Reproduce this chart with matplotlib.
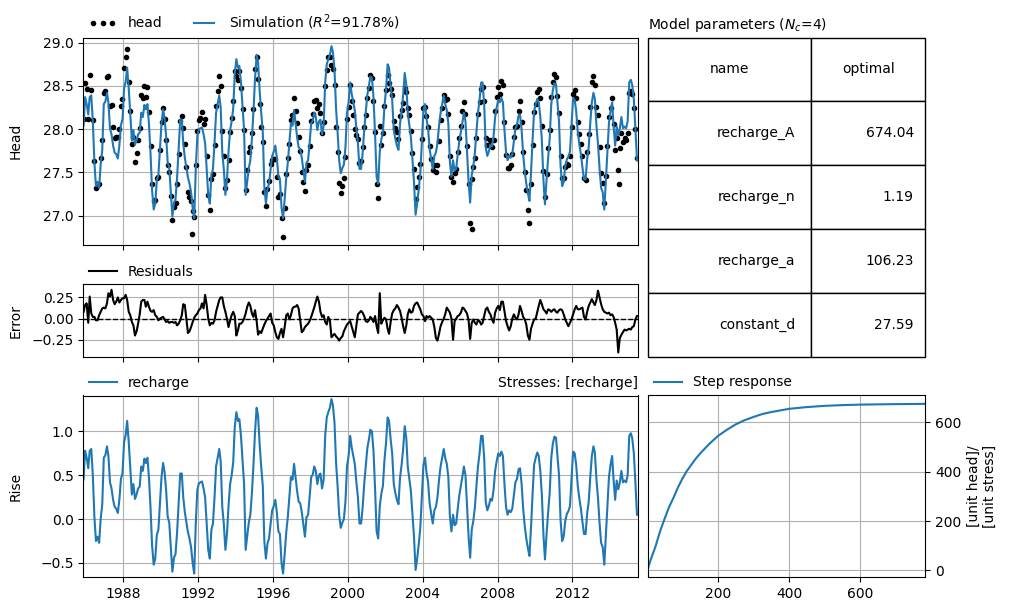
import matplotlib
matplotlib.use("Agg")
import matplotlib.pyplot as plt
import matplotlib.dates as mdates
import pandas as pd

# ---- data (monthly, mid-month, Nov 1985 - Jun 2015) ----
MONTHS = pd.date_range("1985-11-01", "2015-06-01", freq="MS") + pd.Timedelta(days=14)

# contribution of the recharge stress ("Rise")
RISE = [
    0.45, 0.78, 0.70, 0.58, 0.78, 0.80, 0.50, 0.02, -0.25, -0.20,
    -0.27, 0.00, 0.17, 0.70, 0.73, 0.83, 0.72, 0.42, 0.35, 0.22,
    0.14, 0.12, 0.07, 0.22, 0.46, 0.52, 0.88, 0.96, 1.12, 0.88,
    0.58, 0.28, 0.40, 0.23, 0.28, 0.35, 0.37, 0.60, 0.55, 0.69,
    0.64, 0.70, 0.47, 0.12, -0.30, -0.52, -0.45, -0.18, -0.12, 0.17,
    0.48, 0.64, 0.54, 0.33, 0.03, -0.04, -0.32, -0.60, -0.44, -0.40,
    -0.15, 0.18, 0.52, 0.52, 0.25, 0.08, -0.03, -0.15, -0.22, -0.32,
    -0.50, -0.62, -0.05, 0.33, 0.41, 0.42, 0.43, 0.35, 0.25, -0.06,
    -0.35, -0.45, -0.12, -0.05, 0.25, 0.60, 0.70, 0.80, 0.66, 0.14,
    -0.05, -0.35, -0.18, 0.15, 0.40, 0.50, 0.65, 1.05, 1.22, 1.12,
    1.14, 0.95, 0.68, 0.40, -0.35, -0.20, -0.04, 0.05, 0.30, 0.62,
    1.00, 1.27, 1.18, 0.85, 0.60, 0.38, -0.25, -0.45, -0.28, -0.22,
    -0.05, 0.10, 0.15, 0.22, 0.08, -0.14, -0.17, -0.50, -0.62, -0.40,
    -0.15, 0.02, 0.25, 0.48, 0.45, 0.63, 0.48, 0.32, 0.20, 0.18,
    0.08, -0.06, -0.20, 0.02, 0.05, 0.25, 0.48, 0.51, 0.60, 0.55,
    0.40, 0.50, 0.52, 0.35, 0.45, 0.95, 1.16, 1.22, 1.27, 1.37,
    1.30, 1.10, 0.65, 0.37, 0.05, -0.10, -0.04, 0.00, 0.20, 0.60,
    0.72, 0.95, 0.82, 0.72, 0.63, 0.42, 0.25, -0.05, -0.05, 0.13,
    0.40, 0.60, 0.81, 0.91, 1.02, 1.00, 0.78, 0.35, -0.14, -0.22,
    0.15, 0.29, 0.38, 0.67, 0.87, 1.16, 1.12, 0.91, 0.75, 0.40,
    0.30, 0.22, 0.17, 0.47, 0.62, 0.80, 1.06, 0.92, 0.60, 0.46,
    0.32, 0.05, -0.20, -0.58, -0.45, -0.29, -0.10, 0.25, 0.62, 0.70,
    0.53, 0.42, 0.18, 0.06, -0.05, 0.10, 0.14, 0.25, 0.45, 0.60,
    0.70, 0.80, 0.70, 0.63, 0.48, 0.03, -0.14, 0.05, -0.07, -0.05,
    0.12, 0.27, 0.38, 0.49, 0.60, 0.50, 0.15, -0.20, -0.44, -0.12,
    -0.02, 0.13, 0.38, 0.60, 0.75, 0.95, 0.95, 0.70, 0.20, 0.10,
    0.15, 0.23, 0.21, 0.33, 0.55, 0.66, 0.75, 0.72, 0.77, 0.72,
    0.40, 0.14, 0.05, 0.10, 0.08, 0.12, 0.27, 0.42, 0.46, 0.57,
    0.58, 0.40, 0.12, -0.08, -0.22, -0.33, -0.42, -0.10, 0.29, 0.62,
    0.70, 0.76, 0.72, 0.55, 0.28, -0.18, -0.46, -0.17, 0.08, 0.30,
    0.70, 0.86, 0.94, 0.93, 0.72, 0.50, -0.01, -0.25, -0.20, -0.02,
    0.06, 0.09, 0.15, 0.45, 0.77, 0.75, 0.62, 0.38, 0.24, 0.12,
    -0.03, -0.17, -0.17, 0.06, 0.20, 0.48, 0.72, 0.83, 0.76, 0.45,
    0.24, -0.05, -0.27, -0.32, -0.52, -0.20, 0.15, 0.48, 0.62, 0.72,
    0.45, 0.22, 0.44, 0.34, 0.42, 0.55, 0.42, 0.44, 0.42, 0.50,
    0.95, 0.98, 0.92, 0.75, 0.42, 0.05,
]

RESIDUALS = [
    0.08, 0.16, 0.18, -0.05, 0.26, 0.06, 0.02, 0.02, -0.02, -0.02,
    0.04, 0.08, 0.12, 0.13, 0.12, 0.18, 0.30, 0.26, 0.34, 0.22,
    0.17, 0.20, 0.25, 0.19, 0.22, 0.24, 0.24, 0.28, 0.22, 0.08,
    0.04, -0.04, -0.08, -0.20, -0.15, -0.06, 0.05, 0.20, 0.22, 0.22,
    0.14, 0.20, 0.14, 0.09, 0.08, 0.10, 0.04, 0.02, -0.02, 0.00,
    0.01, 0.02, -0.01, -0.04, -0.03, -0.05, -0.04, -0.04, -0.05, -0.04,
    -0.08, -0.06, -0.02, 0.04, 0.17, 0.16, 0.00, -0.17, -0.15, -0.10,
    -0.04, 0.01, 0.04, 0.06, 0.10, 0.12, 0.18, 0.12, 0.28, 0.16,
    0.00, -0.08, -0.05, -0.06, -0.02, 0.08, 0.15, 0.22, 0.25, 0.25,
    0.15, 0.08, 0.00, -0.10, -0.02, 0.04, 0.08, 0.03, -0.20, -0.14,
    -0.06, -0.06, -0.04, 0.00, 0.06, 0.14, 0.19, 0.15, 0.06, 0.02,
    0.10, -0.03, -0.19, -0.15, -0.17, -0.12, -0.07, -0.03, 0.00, 0.03,
    0.06, -0.05, -0.08, -0.16, -0.22, -0.24, -0.17, -0.12, -0.22, -0.10,
    0.04, 0.06, -0.01, 0.04, 0.12, 0.14, 0.14, 0.16, 0.12, -0.02,
    -0.16, -0.14, -0.10, -0.08, -0.06, -0.03, 0.02, 0.08, 0.13, 0.20,
    0.26, 0.20, 0.08, 0.02, 0.04, -0.04, -0.07, 0.02, -0.02, -0.22,
    -0.20, -0.18, -0.21, -0.23, -0.26, -0.23, -0.21, -0.15, -0.11, -0.07,
    -0.05, -0.03, -0.09, -0.15, -0.22, -0.08, 0.05, 0.07, 0.09, 0.07,
    0.03, -0.03, -0.04, -0.02, 0.02, 0.00, -0.04, 0.03, -0.09, -0.17,
    0.30, -0.06, -0.02, 0.01, -0.01, -0.12, -0.18, -0.04, 0.06, 0.10,
    0.12, 0.16, 0.13, 0.09, 0.01, -0.09, -0.17, -0.08, 0.05, 0.11,
    0.07, 0.08, 0.15, 0.18, 0.19, 0.15, 0.11, 0.05, 0.03, -0.03,
    0.03, 0.01, 0.03, 0.01, -0.01, -0.10, -0.23, -0.26, -0.18, -0.09,
    -0.04, 0.00, 0.05, 0.13, 0.10, 0.07, 0.00, -0.25, -0.03, 0.00,
    0.03, 0.04, 0.07, 0.13, 0.12, 0.09, 0.06, -0.02, -0.24, -0.05,
    -0.01, -0.05, -0.07, -0.02, -0.03, -0.07, -0.05, 0.03, 0.11, 0.13,
    0.08, 0.05, -0.01, -0.05, 0.07, 0.12, 0.15, 0.10, 0.20, 0.20,
    0.09, -0.03, -0.09, -0.14, -0.09, 0.00, 0.05, 0.01, -0.01, 0.05,
    0.15, 0.09, 0.02, -0.01, -0.07, -0.20, -0.25, -0.12, -0.06, -0.01,
    0.00, 0.08, 0.15, 0.22, 0.17, 0.11, 0.09, 0.06, 0.11, 0.10,
    0.08, 0.10, 0.11, 0.08, 0.07, 0.10, 0.11, 0.10, 0.05, -0.01,
    -0.05, -0.09, -0.05, -0.01, 0.05, 0.11, 0.15, 0.11, 0.11, 0.12,
    0.13, 0.02, -0.01, 0.08, 0.15, 0.19, 0.23, 0.19, 0.16, 0.22,
    0.33, 0.25, 0.17, 0.11, 0.08, 0.07, 0.06, 0.07, 0.04, 0.05,
    0.02, -0.05, -0.13, -0.40, -0.23, -0.19, -0.16, -0.13, -0.14, -0.13,
    -0.12, -0.13, -0.10, -0.09, -0.01, 0.03,
]

# a few isolated head observations that stand out in the top panel
OUTLIER_DATES = ["1991-09-01", "2006-08-20", "2014-07-01"]
OUTLIER_HEAD = [26.79, 26.85, 27.36]

PARAM_NAMES = ["recharge_A", "recharge_n", "recharge_a", "constant_d"]
PARAM_OPTIMAL = [674.04, 1.19, 106.23, 27.59]
R2 = 91.78

STEP_T = [4, 10, 25, 37, 50, 62, 75, 87, 100, 112, 125, 137, 150, 175, 200,
          225, 250, 275, 300, 325, 350, 400, 450, 500, 550, 600, 650, 700, 783]
STEP_RESPONSE = [12, 40, 100, 158, 210, 255, 295, 335, 372, 402, 428, 452, 474, 512, 545,
                 570, 592, 609, 622, 634, 642, 655, 662, 667, 670, 672, 673, 674, 675]

# ---- layout (pixel boxes of the reference) ----
W, H = 1011, 611


def box(x0, y0, x1, y1):
    return [x0 / W, 1 - y1 / H, (x1 - x0) / W, (y1 - y0) / H]


def main():
    sim = pd.Series(RISE, index=MONTHS) + PARAM_OPTIMAL[3]
    res = pd.Series(RESIDUALS, index=MONTHS)
    head = pd.concat([sim + res,
                      pd.Series(OUTLIER_HEAD, index=pd.to_datetime(OUTLIER_DATES))]).sort_index()

    fig = plt.figure(figsize=(W / 100, H / 100), dpi=100)
    ax1 = fig.add_axes(box(83.3, 37.5, 638, 245))
    ax2 = fig.add_axes(box(83.3, 284.3, 638, 356.7), sharex=ax1)
    ax3 = fig.add_axes(box(83.3, 395.5, 638, 577), sharex=ax1)
    axt = fig.add_axes(box(648.3, 37.5, 925.3, 357))
    ax4 = fig.add_axes(box(648.3, 395, 925.3, 577))

    # head + simulation
    ax1.plot(head.index, head.values, marker=".", linestyle="none", color="k", label="head")
    ax1.plot(sim.index, sim.values, color="C0", label=f"Simulation ($R^2$={R2:.2f}%)")
    ax1.set_ylim(26.66, 29.06)
    ax1.set_ylabel("Head")
    ax1.legend(loc=(0, 1), ncol=3, frameon=False, numpoints=3)

    # residuals
    ax2.axhline(0.0, color="k", linestyle="--", linewidth=1.0, zorder=2)
    ax2.plot(res.index, res.values, color="k", label="Residuals", zorder=3)
    ax2.set_ylim(-0.45, 0.405)
    ax2.set_yticks([-0.25, 0.0, 0.25])
    ax2.set_ylabel("Error")
    ax2.legend(loc=(0, 1), ncol=3, frameon=False)

    # recharge contribution
    ax3.plot(MONTHS, RISE, color="C0", label="recharge")
    ax3.set_ylim(-0.66, 1.41)
    ax3.set_ylabel("Rise")
    ax3.set_title("Stresses: [recharge]", loc="right", fontsize=10)
    ax3.legend(loc=(0, 1), ncol=3, frameon=False)

    ax1.set_xlim(pd.Timestamp("1985-11-10"), pd.Timestamp("2015-07-05"))
    ax3.xaxis.set_major_locator(mdates.YearLocator(4))
    ax3.xaxis.set_major_formatter(mdates.DateFormatter("%Y"))
    for ax in (ax1, ax2):
        ax.tick_params(labelbottom=False)
    for ax in (ax1, ax2, ax3):
        ax.grid(True)
        ax.yaxis.set_label_coords(-0.11, 0.5)

    # step response
    ax4.plot(STEP_T, STEP_RESPONSE, color="C0", label="Step response")
    ax4.set_xlim(4, 783)
    ax4.set_ylim(-27, 711)
    ax4.set_xticks([200, 400, 600])
    ax4.yaxis.tick_right()
    ax4.yaxis.set_label_position("right")
    ax4.set_ylabel("[unit head]/\n[unit stress]")
    ax4.grid(True)
    ax4.legend(loc=(0, 1), frameon=False)

    # parameter table
    axt.axis("off")
    cells = [[n, f"{v:.2f}"] for n, v in zip(PARAM_NAMES, PARAM_OPTIMAL)]
    tbl = axt.table(cellText=cells, colLabels=["name", "optimal"],
                    bbox=[0, 0, 1, 1], colWidths=[163 / 277, 114 / 277])
    tbl.auto_set_font_size(False)
    tbl.set_fontsize(10)
    axt.set_title(f"Model parameters ($N_c$={len(PARAM_NAMES)})", loc="left", fontsize=10)

    fig.savefig("out.png", dpi=100)
    plt.close(fig)


if __name__ == "__main__":
    main()
